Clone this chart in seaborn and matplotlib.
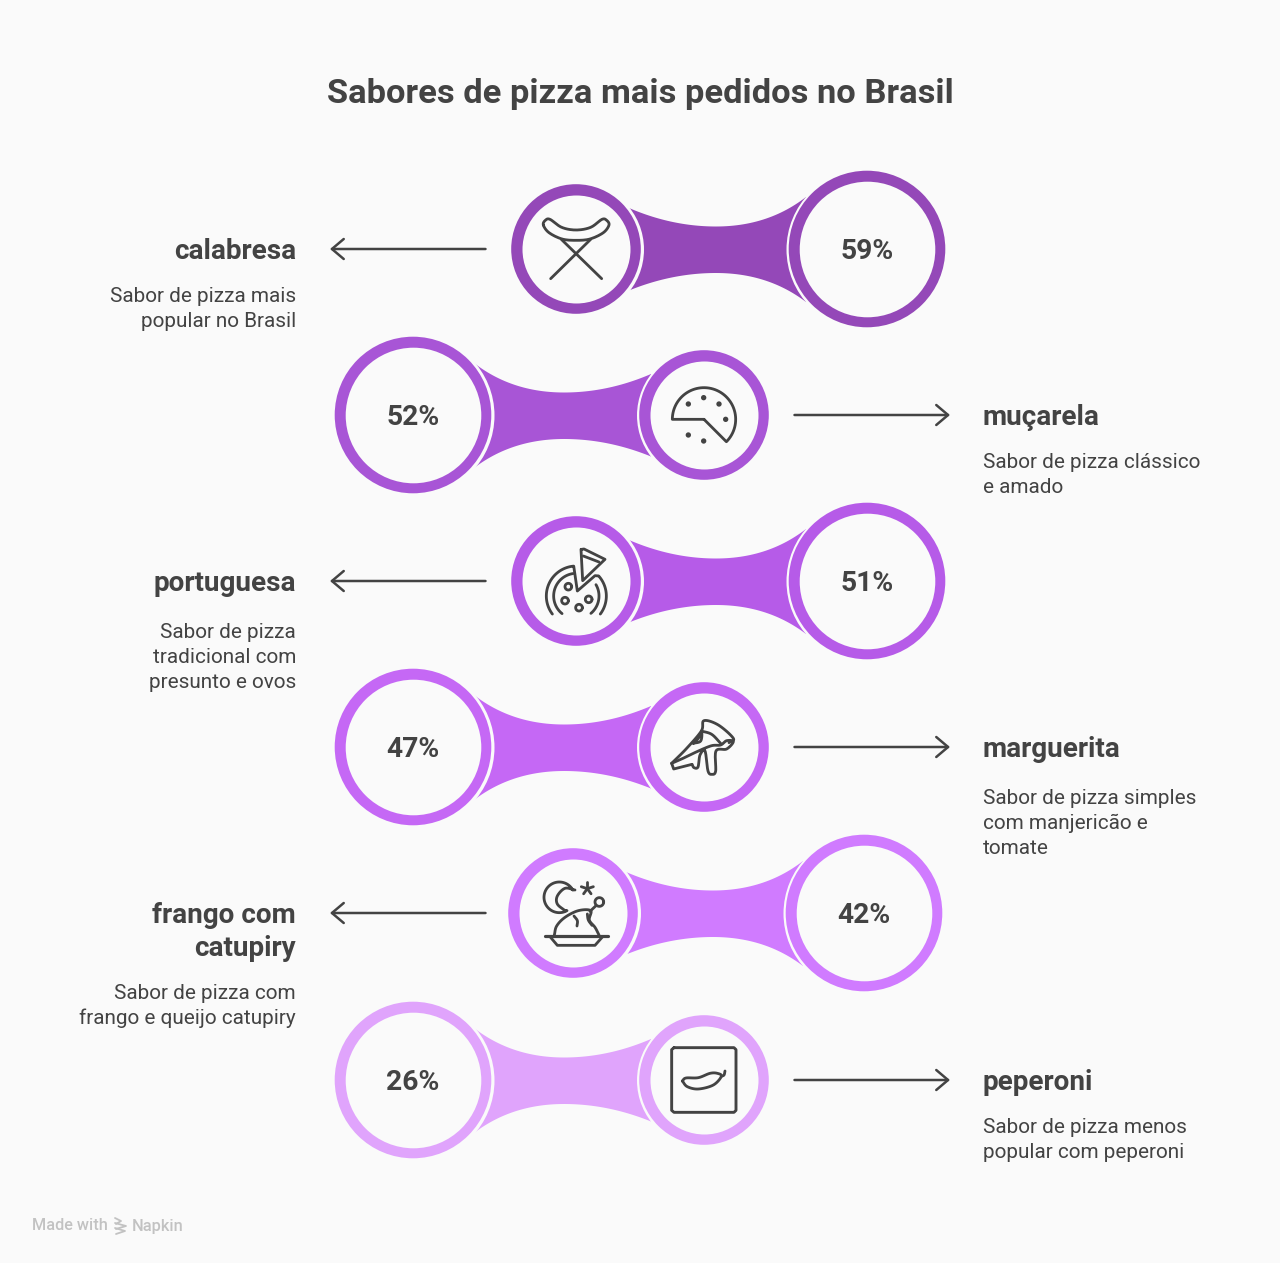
import numpy as np
import pandas as pd
import seaborn as sns
import matplotlib.pyplot as plt

sabores = ["calabresa", "muçarela", "portuguesa", "marguerita", "frango com\ncatupiry", "peperoni"]
percentuais = [59, 52, 51, 47, 42, 26]
descricoes = [
    "Sabor de pizza mais\npopular no Brasil",
    "Sabor de pizza clássico\ne amado",
    "Sabor de pizza\ntradicional com\npresunto e ovos",
    "Sabor de pizza simples\ncom manjericão e\ntomate",
    "Sabor de pizza com\nfrango e queijo catupiry",
    "Sabor de pizza menos\npopular com peperoni",
]
cores = ["#9448B8", "#A855D6", "#B65BE8", "#C568F5", "#D07BFF", "#E0A4FC"]
lados = [-1, 1, -1, 1, -1, 1]  # -1 text on the left, 1 text on the right

linhas_y = [249, 415, 581, 747, 913, 1080]
pequeno_x = [576, 704, 576, 704, 573, 704]
grande_x = [867, 413, 867, 413, 864, 413]

BG = "#FAFAFA"
INK = "#434343"
GREY = "#C2C2C2"
PX = 0.72  # one pixel in points at dpi 100

sns.set_theme(style="white")
plt.rcParams["font.family"] = ["Roboto", "DejaVu Sans"]

df = pd.DataFrame({"sabor": sabores, "pct": percentuais, "y": linhas_y,
                   "pequeno": pequeno_x, "grande": grande_x})
paleta = dict(zip(sabores, cores))

fig = plt.figure(figsize=(12.8, 12.63), dpi=100, facecolor=BG)
ax = fig.add_axes([0, 0, 1, 1])
ax.set_facecolor(BG)


def bezier(p0, p1, p2, n=30):
    t = np.linspace(0, 1, n)[:, None]
    return (1 - t) ** 2 * np.array(p0) + 2 * t * (1 - t) * np.array(p1) + t ** 2 * np.array(p2)


def smooth(pts, closed=False, n=12):
    # catmull-rom through the given points
    p = np.array(pts, float)
    if closed:
        p = np.vstack([p[-1], p, p[0], p[1]])
    else:
        p = np.vstack([2 * p[0] - p[1], p, 2 * p[-1] - p[-2]])
    out = []
    t = np.linspace(0, 1, n, endpoint=False)[:, None]
    for i in range(1, len(p) - 2):
        a, b, c, d = p[i - 1], p[i], p[i + 1], p[i + 2]
        out.append(0.5 * (2 * b + (c - a) * t + (2 * a - 5 * b + 4 * c - d) * t ** 2 + (3 * b - a - 3 * c + d) * t ** 3))
    out.append(p[-2][None, :])
    return np.vstack(out)


def disc(col, radius, color=None):
    size = (2 * radius * PX) ** 2
    if color is None:
        sns.scatterplot(data=df, x=col, y="y", hue="sabor", palette=paleta, s=size,
                        linewidth=0, legend=False, ax=ax)
    else:
        sns.scatterplot(data=df, x=col, y="y", color=color, s=size,
                        linewidth=0, legend=False, ax=ax)


# connectors between the two circles
for i in df.index:
    d = 1 if grande_x[i] > pequeno_x[i] else -1
    sx, y = pequeno_x[i], linhas_y[i]
    top = np.vstack([bezier((sx + d * 53, y - 41), (sx + d * 96, y - 22.5), (sx + d * 140, y - 22.5)),
                     bezier((sx + d * 140, y - 22.5), (sx + d * 192, y - 22.5), (sx + d * 230, y - 52))])
    bot = np.vstack([bezier((sx + d * 230, y + 53), (sx + d * 192, y + 24), (sx + d * 140, y + 24)),
                     bezier((sx + d * 140, y + 24), (sx + d * 96, y + 24), (sx + d * 53, y + 41.5))])
    ax.fill(*np.vstack([top, bot]).T, color=cores[i], lw=0, zorder=2)

# rings: gap, colour, inner face
disc("grande", 81, BG)
disc("pequeno", 67.5, BG)
disc("grande", 78.3)
disc("pequeno", 64.8)
disc("grande", 67.8, BG)
disc("pequeno", 54, BG)
for c in ax.collections:
    c.set_zorder(3)


def stroke(pts, cx, cy, ox, oy, lw=2.8):
    pts = np.array(pts, float)
    ax.plot(cx + (pts[:, 0] - ox) / 3, cy + (pts[:, 1] - oy) / 3, color=INK, lw=lw * PX,
            solid_capstyle="round", solid_joinstyle="round", zorder=5)


def dot(x, y, cx, cy, ox, oy, r=8):
    pts = arc(x, y, r, 0, 360)
    ax.fill(cx + (pts[:, 0] - ox) / 3, cy + (pts[:, 1] - oy) / 3, color=INK, lw=0, zorder=5)


def arc(x, y, r, a0, a1, n=60):
    a = np.radians(np.linspace(a0, a1, n))
    return np.column_stack([x + r * np.cos(a), y + r * np.sin(a)])


def icon_calabresa(cx, cy):
    o = (cx, cy, 228, 267)
    stroke(smooth([(130, 195), (136, 181), (150, 178), (185, 202), (228, 210), (272, 202), (306, 178),
                   (320, 181), (327, 195), (310, 218), (270, 237), (228, 241), (186, 237), (147, 218)],
                  closed=True), *o)
    stroke([(152, 356), (272, 238)], *o)
    stroke([(305, 356), (184, 238)], *o)


def icon_mucarela(cx, cy):
    o = (cx, cy, 222, 225)
    pts = np.vstack([[(222, 238), (127, 238)], arc(222, 238, 95, 180, 405), [(222, 238)]])
    stroke(pts, *o)
    for x, y in [(175, 192), (221, 173), (267, 192), (287, 238), (175, 285), (221, 303)]:
        dot(x, y, *o)


def icon_portuguesa(cx, cy):
    o = (cx, cy, 228, 213)
    stroke([(245, 118), (252, 117), (315, 148), (248, 212), (243, 118)], *o)
    stroke([(250, 138), (297, 156)], *o)
    stroke(np.vstack([arc(229, 258, 90, 143, 265), [(232, 243), (285, 197)], arc(229, 258, 90, -42, 37)]), *o)
    stroke(arc(229, 258, 68, 129, 262), *o)
    stroke(arc(229, 258, 68, -30, 50), *o)
    for x, y in [(205, 230), (195, 272), (237, 293), (266, 268)]:
        stroke(arc(x, y, 10, 0, 360), *o)


def icon_marguerita(cx, cy):
    o = (cx, cy, 222, 216)
    stroke(smooth([(125, 265), (170, 220), (214, 168), (222, 137), (265, 150), (310, 190), (297, 203)]), *o)
    stroke(smooth([(214, 168), (245, 178), (272, 205)]), *o)
    stroke([(125, 265), (131, 282), (186, 268)], *o)
    stroke(smooth([(186, 268), (192, 278), (204, 276), (210, 240), (225, 228), (234, 288), (246, 298),
                   (257, 288), (258, 228), (290, 222), (310, 200), (290, 197), (272, 210), (245, 212),
                   (205, 228), (170, 245), (125, 265)]), *o)
    stroke(smooth([(190, 205), (205, 190), (215, 172), (212, 198), (190, 205)]), *o)


def icon_frango(cx, cy):
    o = (cx, cy, 219, 219)
    moon = np.vstack([arc(178, 172, 46, -28, -300), smooth([(195, 212), (172, 192), (172, 168), (195, 145), (225, 150)])])
    stroke(moon, *o)
    for a in [-90, -18, 54, 126, 198]:
        stroke(arc(262, 146, 19, a, a, 1).tolist() + [(262, 146)], *o)
    stroke(arc(298, 186, 13, 0, 360), *o)
    stroke([(288, 197), (270, 214)], *o)
    stroke(smooth([(163, 285), (170, 258), (195, 232), (235, 212), (272, 212), (268, 240), (285, 262), (297, 285)]), *o)
    stroke(smooth([(222, 228), (232, 242), (231, 258)]), *o)
    stroke(smooth([(262, 222), (265, 240), (276, 256)]), *o)
    stroke([(135, 288), (325, 288)], *o, lw=3.2)
    stroke([(150, 290), (172, 316), (285, 316), (308, 290)], *o)


def icon_peperoni(cx, cy):
    o = (cx, cy, 222, 225)
    stroke([(132, 128), (312, 128), (318, 134), (318, 316), (312, 322), (132, 322), (125, 316), (125, 134), (132, 128)], *o, lw=2.9)
    stroke(smooth([(157, 228), (168, 219), (205, 218), (240, 205), (262, 205), (274, 214), (250, 240),
                   (205, 252), (172, 245), (157, 228)]), *o)
    stroke(smooth([(274, 214), (282, 210), (285, 198)]), *o)


icones = [icon_calabresa, icon_mucarela, icon_portuguesa, icon_marguerita, icon_frango, icon_peperoni]

for i in df.index:
    y, lado = linhas_y[i], lados[i]
    icones[i](pequeno_x[i], y)
    ax.text(grande_x[i], y - 0.8, f"{percentuais[i]}%", ha="center", va="center_baseline", color=INK,
            fontsize=28.3 * PX, fontweight="bold", zorder=6)

    # arrow towards the text
    x0, x1 = (485.5, 330) if lado < 0 else (794.5, 950)
    ax.annotate("", xy=(x1, y), xytext=(x0, y),
                arrowprops=dict(arrowstyle="->,head_length=8.5,head_width=7.2", color=INK, lw=2.5 * PX,
                                shrinkA=0, shrinkB=0, mutation_scale=1), zorder=6)

    tx, ha = (296, "right") if lado < 0 else (983, "left")
    ty = y - 0.4
    for linha in sabores[i].split("\n"):
        ax.text(tx, ty, linha, ha=ha, va="center_baseline", color=INK, fontsize=27.9 * PX, fontweight="bold")
        ty += 33
    linhas_desc = descricoes[i].split("\n")
    ty += 13 if len(linhas_desc) < 3 else 17
    for linha in linhas_desc:
        ax.text(tx, ty, linha, ha=ha, va="center_baseline", color=INK, fontsize=20.8 * PX)
        ty += 25

ax.text(640, 91, "Sabores de pizza mais pedidos no Brasil", ha="center", va="center_baseline",
        color=INK, fontsize=34.5 * PX, fontweight="bold")

# footer
ax.text(32, 1224.5, "Made with", ha="left", va="center_baseline", color=GREY, fontsize=16.2 * PX, fontweight="medium")
ax.text(132, 1224.5, "Napkin", ha="left", va="center_baseline", color=GREY, fontsize=16.4 * PX, fontweight="medium")
for dy, x0, x1 in [(0, 115, 121), (5, 115, 126), (10, 115, 125)]:
    ax.plot([x0, x1, x0 + 1], [1218 + dy, 1221 + dy, 1224 + dy], color=GREY, lw=1.8 * PX, zorder=4)

ax.set_xlim(0, 1280)
ax.set_ylim(1263, 0)
ax.set_axis_off()

fig.savefig("out.png", dpi=100, facecolor=BG)
